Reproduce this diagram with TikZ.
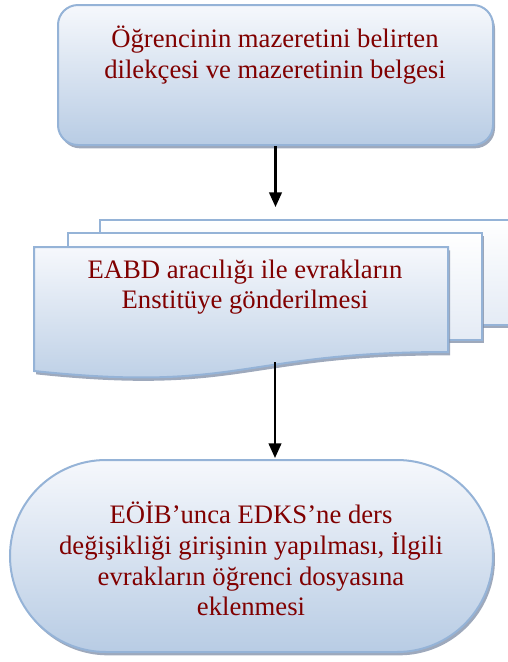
\documentclass[tikz,border=0pt]{standalone}
\usepackage{fontspec}
\setmainfont{Liberation Serif}
\usetikzlibrary{shadows,arrows.meta}
\definecolor{txtred}{RGB}{128,0,0}
\definecolor{bord}{RGB}{149,179,215}
\definecolor{shadeb}{RGB}{184,204,228}
\definecolor{shadet}{RGB}{246,248,252}
\definecolor{backb}{RGB}{228,235,245}
\definecolor{shcol}{RGB}{125,140,165}
\begin{document}
\begin{tikzpicture}[x=0.75pt,y=-0.75pt,
  boxfill/.style={top color=shadet, bottom color=shadeb, draw=bord, line width=1.5pt},
  backfill/.style={top color=white, bottom color=backb, draw=bord, line width=1.5pt},
  dshadow/.style={drop shadow={shadow xshift=1.5pt, shadow yshift=-2.5pt, fill=shcol, opacity=0.75}},
  txt/.style={text=txtred, font=\fontsize{20}{23}\selectfont, align=center, inner sep=0pt},
  arr/.style={-{Triangle[width=9.5pt,length=11pt]}, line width=1.6pt, black}]
\useasboundingbox (0,0) rectangle (508,662);
\clip (0,0) rectangle (508,662);
% top process box
\node[boxfill, dshadow, rectangle, rounded corners=15pt,
      minimum width=326.25pt, minimum height=105pt, inner sep=0pt] (top) at (275.5,75) {};
\node[txt] (toptext) at (275,55) {Öğrencinin mazeretini belirten\\dilekçesi ve mazeretinin belgesi};
% multidocument
\path[backfill, dshadow] (100,220) rectangle (540,325);
\path[backfill, dshadow] (68,233) rectangle (482,340);
\path[boxfill, dshadow] (34,247) -- (448,247) -- (448,352)
  .. controls (241,352) and (241,393) .. (34,371) -- cycle;
\node[txt] (doc) at (245,287) {EABD aracılığı ile evrakların\\Enstitüye gönderilmesi};
% terminal
\node[boxfill, dshadow, rectangle, rounded corners=72pt,
      minimum width=362.25pt, minimum height=144pt, inner sep=0pt] (term) at (251.5,556) {};
\node[txt] (termtext) at (251,559) {EÖİB’unca EDKS’ne ders\\değişikliği girişinin yapılması, İlgili\\evrakların öğrenci dosyasına\\eklenmesi};
% connectors
\coordinate (a1e) at (275.5,207);
\draw[arr] (top.south) -- (a1e);
\coordinate (a2s) at (275,362);
\coordinate (a2e) at (275,458);
\draw[arr] (a2s) -- (a2e);
\end{tikzpicture}
\end{document}
